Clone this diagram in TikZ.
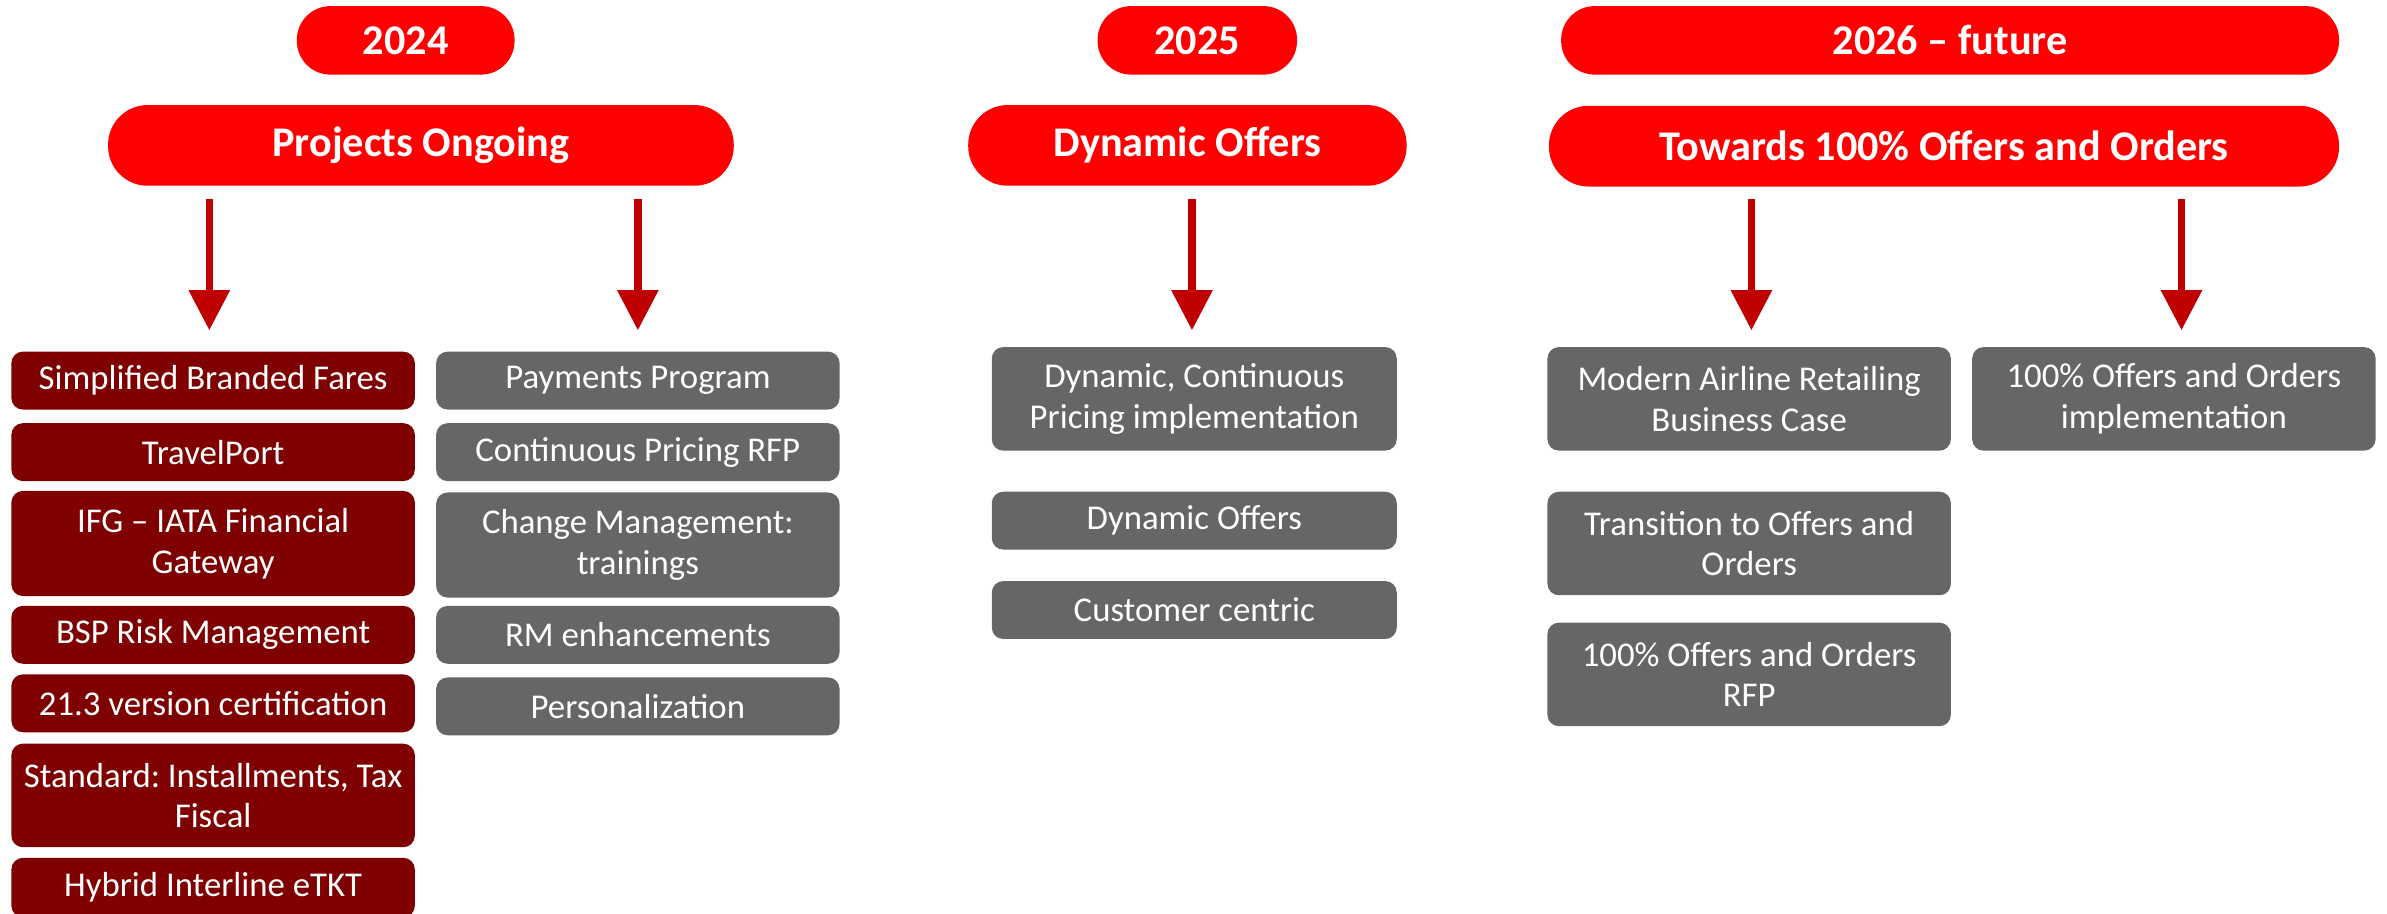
\documentclass[tikz,border=0pt]{standalone}
\usepackage{fontspec}
\setmainfont{Carlito}
\frenchspacing
\usetikzlibrary{arrows.meta,positioning}
\definecolor{pillred}{HTML}{FF0000}
\definecolor{darkitem}{HTML}{7F0000}
\definecolor{grayitem}{HTML}{666666}
\definecolor{arrowred}{HTML}{C00000}
\newcommand{\pw}{0.02cm}
\newcommand{\mpill}[5]{
  \node [pill,minimum width=#2*\pw,minimum height=#3*\pw,rounded corners=#3*0.49*\pw] at #1 (#5) {#4};
}
\newcommand{\mitem}[6][grayitem]{
  \node [item,fill=#1,minimum width=#3*\pw,minimum height=#4*\pw] at #2 (#6) {#5};
}

\begin{document}
\begin{tikzpicture}[x=\pw,y=-\pw,
  pill/.style={fill=pillred,text=white,inner sep=0pt,font=\fontsize{15.8}{18}\selectfont\bfseries},
  item/.style={rounded corners=0.15cm,text=white,align=center,inner sep=0pt,font=\fontsize{13}{15.2}\selectfont},
  down/.style={arrowred,line width=0.1cm,-{Triangle[width=0.52cm,length=0.53cm]}}]
  \useasboundingbox (0,0) rectangle (1568,600);

  % years
  \mpill{(266.5,26.5)}{143}{45}{2024}{y1}
  \mpill{(786.5,26.5)}{131}{45}{2025}{y2}
  \mpill{(1281,26.5)}{511}{45}{2026 – future}{y3}

  % themes
  \mpill{(276.5,95.5)}{411}{53}{Projects Ongoing}{po}
  \mpill{(780,95.5)}{288}{53}{Dynamic Offers}{dof}
  \mpill{(1277,96)}{519}{53}{Towards 100\% Offers and Orders}{tw}

  \foreach \x [count=\i] in {137.5,419,783,1150.5,1433} {
    \coordinate (t\i) at (\x,131);
    \coordinate (h\i) at (\x,217);
    \draw [down] (t\i) -- (h\i);
  }

  % 2024
  \mitem[darkitem]{(140,250)}{265}{38}{Simplified Branded Fares}{sbf}
  \mitem[darkitem]{(140,297)}{265}{38}{TravelPort}{tp}
  \mitem[darkitem]{(140,357)}{265}{69}{IFG – IATA Financial\\Gateway}{ifg}
  \mitem[darkitem]{(140,417)}{265}{38}{BSP Risk Management}{bsp}
  \mitem[darkitem]{(140,462)}{265}{38}{21.3 version certification}{ver}
  \mitem[darkitem]{(140,522.5)}{265}{68}{Standard: Installments, Tax\\Fiscal}{std}
  \mitem[darkitem]{(140,583)}{265}{39}{Hybrid Interline eTKT}{hyb}

  \mitem{(419,250)}{265}{38}{Payments Program}{pay}
  \mitem{(419,297)}{265}{38}{Continuous Pricing RFP}{cpr}
  \mitem{(419,358)}{265}{69}{Change Management:\\trainings}{chg}
  \mitem{(419,417)}{265}{38}{RM enhancements}{rm}
  \mitem{(419,464)}{265}{38}{Personalization}{per}

  % 2025
  \mitem{(784.5,262)}{266}{68}{Dynamic, Continuous\\Pricing implementation}{dcp}
  \mitem{(784.5,342)}{266}{38}{Dynamic Offers}{dyo}
  \mitem{(784.5,400.7)}{266}{38}{Customer centric}{cus}

  % 2026
  \mitem{(1149,262)}{265}{68}{Modern Airline Retailing\\Business Case}{mar}
  \mitem{(1149,357)}{265}{68}{Transition to Offers and\\Orders}{tra}
  \mitem{(1149,443)}{265}{68}{100\% Offers and Orders\\RFP}{rfp}
  \mitem{(1428,262)}{265}{68}{100\% Offers and Orders\\implementation}{imp}
\end{tikzpicture}
\end{document}
